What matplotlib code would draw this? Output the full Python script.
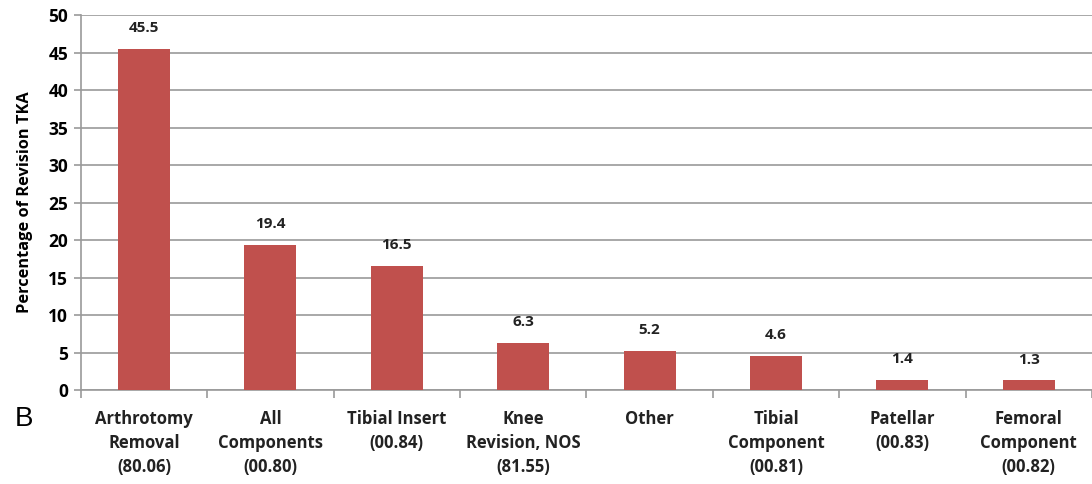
import matplotlib.pyplot as plt
import numpy as np

# Revision TKA procedures (ICD-9 code in brackets)
categories = [
    "Arthrotomy\nRemoval\n(80.06)",
    "All\nComponents\n(00.80)",
    "Tibial Insert\n(00.84)",
    "Knee\nRevision, NOS\n(81.55)",
    "Other",
    "Tibial\nComponent\n(00.81)",
    "Patellar\n(00.83)",
    "Femoral\nComponent\n(00.82)",
]
percentages = [45.5, 19.4, 16.5, 6.3, 5.2, 4.6, 1.4, 1.3]
value_labels = ["45.5", "19.4", "16.5", "6.3", "5.2", "4.6", "1.4", "1.3"]

plt.rcParams["font.family"] = ["Open Sans", "DejaVu Sans"]

fig = plt.figure(figsize=(10.92, 4.84), dpi=100)
ax = fig.add_axes([0.074, 0.194, 0.926, 0.775])

x = np.arange(len(categories))
ax.bar(x, percentages, width=0.41, color="#C0504D", zorder=3)

for xi, val, lab in zip(x, percentages, value_labels):
    ax.annotate(lab, (xi, val), xytext=(0, 15), textcoords="offset points",
                ha="center", va="center", fontsize=11, fontweight="bold",
                color="#222222")

ax.set_xlim(-0.5, len(categories) - 0.5)
ax.set_ylim(0, 50)
ax.set_yticks(range(0, 51, 5))
ax.yaxis.grid(True, color="#9a9a9a", linewidth=1.2, zorder=0)
ax.tick_params(axis="y", labelsize=12.5, length=5, color="#9a9a9a", width=1.2,
               pad=4)
for t in ax.get_yticklabels():
    t.set_fontweight("bold")

# category labels sit between the boundary ticks
ax.set_xticks(x)
ax.set_xticklabels(categories, fontsize=12, fontweight="bold",
                   linespacing=1.45, color="#222222")
ax.tick_params(axis="x", length=0, pad=14)
ax.set_xticks(np.arange(-0.5, len(categories)), minor=True)
ax.tick_params(axis="x", which="minor", length=6, color="#9a9a9a", width=1.2)

for side in ["top", "right"]:
    ax.spines[side].set_visible(False)
for side in ["left", "bottom"]:
    ax.spines[side].set_color("#9a9a9a")
    ax.spines[side].set_linewidth(1.2)

ax.set_ylabel("Percentage of Revision TKA", fontsize=11.8, fontweight="bold",
              labelpad=11)

fig.text(0.0137, 0.134, "B", fontsize=20, family="Liberation Sans",
         va="center", ha="left")

fig.savefig("out.png", dpi=100)
